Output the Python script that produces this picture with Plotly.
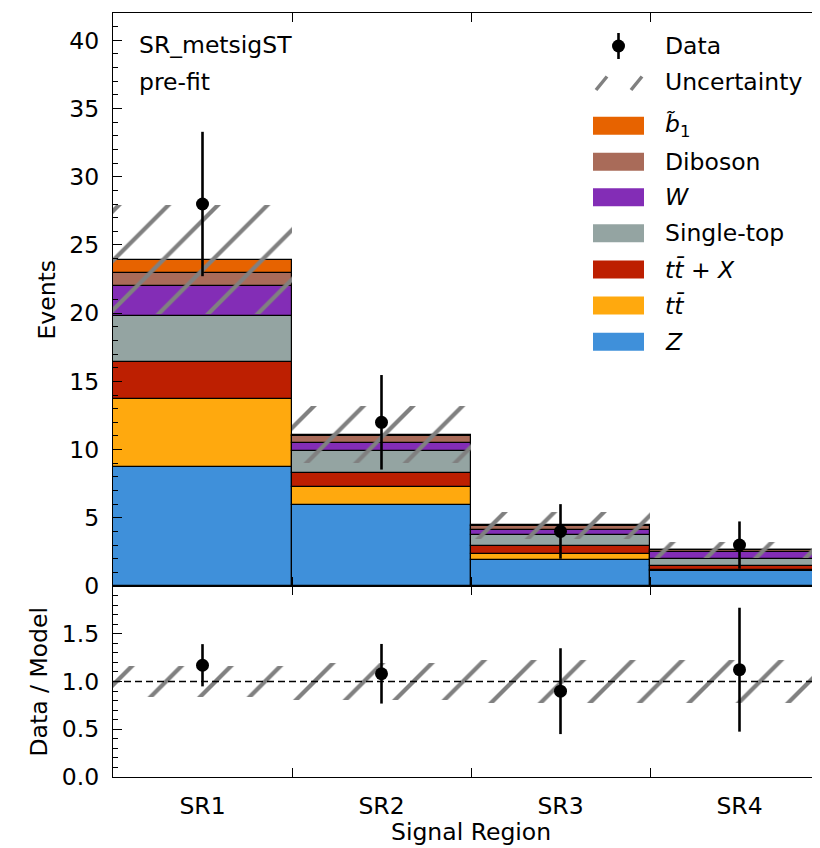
import numpy as np
import plotly.graph_objects as go

# ---------------- data ----------------
regions = ["SR1", "SR2", "SR3", "SR4"]
x_centers = [0, 1, 2, 3]
bin_edges = [0.5, 1.5, 2.5]

# stacked backgrounds (bottom -> top)
z_vals = [8.75, 5.94, 1.92, 1.10]
ttbar_vals = [4.95, 1.35, 0.40, 0.07]
ttx_vals = [2.70, 0.98, 0.63, 0.30]
singletop_vals = [3.40, 1.59, 0.80, 0.50]
w_vals = [2.17, 0.61, 0.35, 0.53]
diboson_vals = [1.00, 0.53, 0.30, 0.12]
b1_vals = [0.96, 0.10, 0.05, 0.05]

model_unc = [4.0, 2.1, 0.98, 0.59]
data_vals = [28, 12, 4, 3]

y_ticks_main = [0, 5, 10, 15, 20, 25, 30, 35, 40]
y_ticks_ratio = [0.0, 0.5, 1.0, 1.5]
y_ticktext_ratio = ["0.0", "0.5", "1.0", "1.5"]

samples = [
    ("Z", "<i>Z</i>", z_vals, "#3f90da"),
    ("ttbar", "<i>tt\u0304</i>", ttbar_vals, "#ffa90e"),
    ("ttX", "<i>tt\u0304</i> + <i>X</i>", ttx_vals, "#bd1f01"),
    ("Single-top", "Single-top", singletop_vals, "#94a4a2"),
    ("W", "<i>W</i>", w_vals, "#832db6"),
    ("Diboson", "Diboson", diboson_vals, "#a96b59"),
    ("b1", "<i>b\u0303</i><sub>1</sub>", b1_vals, "#e76300"),
]

# ---------------- figure ----------------
FONT = "DejaVu Sans"
FS = 23.5
HATCH = "rgb(128,128,128)"

fig = go.Figure()

base = np.zeros(len(regions))
for key, label, vals, col in samples:
    v = np.array(vals)
    fig.add_trace(go.Bar(
        x=x_centers, y=v, base=base.copy(), width=1.0,
        marker=dict(color=col, line=dict(color="black", width=1.2)),
        xaxis="x", yaxis="y", showlegend=False, name=key,
    ))
    base = base + v
total = base

unc = np.array(model_unc)
hatch = dict(shape="/", fgcolor=HATCH, bgcolor="rgba(0,0,0,0)", fgopacity=1,
             size=35, solidity=0.12, fillmode="overlay")
# uncertainty band (main)
fig.add_trace(go.Bar(
    x=x_centers, y=2 * unc, base=total - unc, width=1.0,
    marker=dict(color="rgba(0,0,0,0)", line=dict(width=0), pattern=hatch),
    xaxis="x", yaxis="y", showlegend=False, name="Uncertainty",
))

data = np.array(data_vals, dtype=float)
derr = np.sqrt(data)
fig.add_trace(go.Scatter(
    x=x_centers, y=data, mode="markers",
    marker=dict(color="black", size=13),
    error_y=dict(type="data", array=derr, visible=True, color="black", thickness=2.6, width=0),
    xaxis="x", yaxis="y", showlegend=False, name="Data",
))

# ratio
rel = unc / total
fig.add_trace(go.Bar(
    x=x_centers, y=2 * rel, base=1 - rel, width=1.0,
    marker=dict(color="rgba(0,0,0,0)", line=dict(width=0), pattern=hatch),
    xaxis="x2", yaxis="y2", showlegend=False,
))
fig.add_trace(go.Scatter(
    x=[-0.5, 3.5], y=[1, 1], mode="lines",
    line=dict(color="black", width=1.5, dash="7px,4px"),
    xaxis="x2", yaxis="y2", showlegend=False, hoverinfo="skip",
))
fig.add_trace(go.Scatter(
    x=x_centers, y=data / total, mode="markers",
    marker=dict(color="black", size=13),
    error_y=dict(type="data", array=derr / total, visible=True, color="black", thickness=2.6, width=0),
    xaxis="x2", yaxis="y2", showlegend=False,
))

# ---------------- layout ----------------
# the page body adds an 8px margin, so the figure is shrunk and shifted by it
OFF = 8
PAGE_W, PAGE_H = 820, 848
L, R, T, B = 113, 820, 13, 777
W, H = R - L, B - T


def px(x):
    return (x - L) / W


def py(y):
    return (B - y) / H


split = py(586)
xr = [-0.5, -0.5 + (R - L) / 179.0]

axis_font = dict(family=FONT, size=FS, color="black")

common_x = dict(
    range=xr, showgrid=False, zeroline=False, showline=True, linecolor="black",
    linewidth=1.3, mirror="ticks", ticks="", tickvals=x_centers, automargin=False,
    minor=dict(tickvals=bin_edges, ticks="inside", ticklen=9, tickcolor="black", tickwidth=1.2),
    tickfont=axis_font,
)
common_y = dict(
    showgrid=False, zeroline=False, showline=True, linecolor="black", automargin=False,
    linewidth=1.3, ticks="inside", ticklen=9, tickwidth=1.2, tickcolor="black",
    tickfont=axis_font, ticklabelstandoff=8,
)

fig.update_layout(
    width=PAGE_W - OFF, height=PAGE_H - OFF,
    margin=dict(l=L - OFF, r=PAGE_W - R, t=T - OFF, b=PAGE_H - B, autoexpand=False),
    paper_bgcolor="white", plot_bgcolor="white",
    barmode="overlay", bargap=0,
    font=dict(family=FONT, size=FS, color="black"),
    xaxis=dict(common_x, anchor="y", showticklabels=False, matches="x2"),
    xaxis2=dict(common_x, anchor="y2", ticktext=regions, showticklabels=True,
                ticklabelstandoff=8),
    yaxis=dict(common_y, domain=[split, 1], range=[0, 42], tickvals=y_ticks_main,
               minor=dict(dtick=1, ticks="inside", ticklen=4.5, tickcolor="black", tickwidth=1)),
    yaxis2=dict(common_y, domain=[0, split], range=[0, 2.0], tickvals=y_ticks_ratio,
                ticktext=y_ticktext_ratio,
                minor=dict(dtick=0.1, ticks="inside", ticklen=4.5, tickcolor="black", tickwidth=1)),
    showlegend=False,
)

annotations = [
    dict(x=px(137), y=py(45), text="SR_metsigST"),
    dict(x=px(137), y=py(82), text="pre-fit"),
]

# manual legend
leg_rows = [46, 82, 125.7, 161.7, 197.3, 233.3, 269.5, 305.5, 341.7]
leg_labels = ["Data", "Uncertainty"] + [s[1] for s in reversed(samples)]
leg_colors = [None, None] + [s[3] for s in reversed(samples)]
text_x = 663
shapes = []
for yy, lab, col in zip(leg_rows, leg_labels, leg_colors):
    annotations.append(dict(x=px(text_x), y=py(yy), text=lab))
    if col is not None:
        shapes.append(dict(type="rect", xref="paper", yref="paper",
                           x0=px(593), x1=px(644), y0=py(yy - 9), y1=py(yy + 9),
                           fillcolor=col, line=dict(width=0)))

for a in annotations:
    a.update(xanchor="left")

# axis titles as annotations
annotations.append(dict(x=px(46), y=py(299.5), text="Events", textangle=-90, xanchor="center"))
annotations.append(dict(x=px(38), y=py(681.5), text="Data / Model", textangle=-90, xanchor="center"))
annotations.append(dict(x=px(471), y=py(832), text="Signal Region", xanchor="center"))

# data legend symbol
shapes.append(dict(type="line", xref="paper", yref="paper",
                   x0=px(618.5), x1=px(618.5), y0=py(33), y1=py(59),
                   line=dict(color="black", width=2.6)))
shapes.append(dict(type="circle", xref="paper", yref="paper",
                   x0=px(612), x1=px(625), y0=py(39.5), y1=py(52.5),
                   fillcolor="black", line=dict(width=0)))
# uncertainty legend symbol
for x0 in (596, 631):
    shapes.append(dict(type="line", xref="paper", yref="paper",
                       x0=px(x0), x1=px(x0 + 11), y0=py(90), y1=py(76.5),
                       line=dict(color=HATCH, width=3.5)))

for a in annotations:
    a.update(xref="paper", yref="paper", yanchor="middle",
             showarrow=False, font=dict(family=FONT, size=FS, color="black"))

fig.update_layout(annotations=annotations, shapes=shapes)

fig.write_html("out.html")
